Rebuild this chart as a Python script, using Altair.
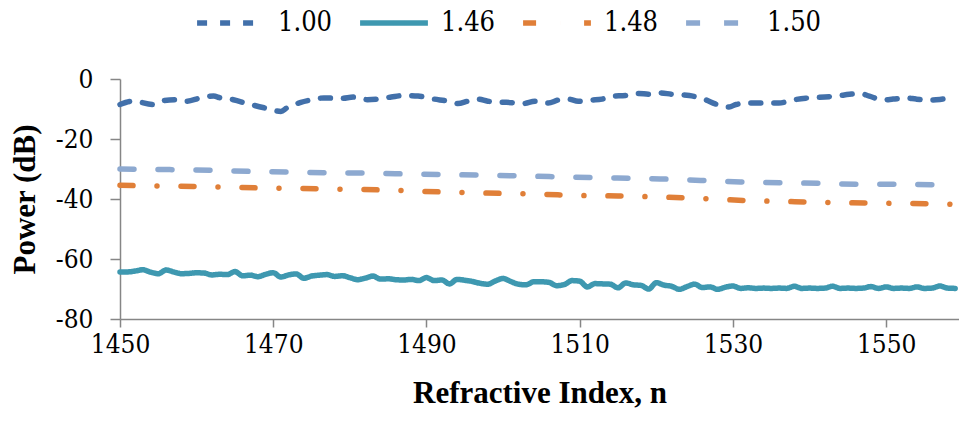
import altair as alt
import pandas as pd

series_names = ["1.00", "1.46", "1.48", "1.50"]
colors = ["#4270AA", "#3E98B0", "#E07F38", "#8DA9D0"]
dashes = [[10, 13], [1, 0], [13, 24, 0.01, 24], [14, 24]]

x_ticks = [1450, 1470, 1490, 1510, 1530, 1550]
y_ticks = [-80, -60, -40, -20, 0]

x_100 = [1450, 1451.7, 1454.4, 1455.7, 1457.4, 1458.7, 1460.5, 1462.2, 1463.1, 1464.8,
         1466.6, 1468.8, 1471.0, 1471.8, 1473.6, 1474.9, 1476.6, 1478.8, 1480.6, 1482.3,
         1483.6, 1485.4, 1487.1, 1488.9, 1491.0, 1492.8, 1494.1, 1495.4, 1496.7, 1498.0,
         1499.8, 1501.3, 1502.6, 1504.2, 1505.9, 1507.2, 1508.5, 1509.8, 1511.6, 1512.9,
         1514.2, 1516.0, 1517.7, 1519.0, 1520.3, 1522.1, 1524.3, 1526.4, 1527.7, 1529.5,
         1530.4, 1532.1, 1533.9, 1536.0, 1537.8, 1539.5, 1541.3, 1543.5, 1545.2, 1546.5,
         1547.8, 1549.6, 1550.9, 1552.6, 1553.9, 1555.7, 1557.0, 1559.0]
y_100 = [-8.5, -7.4, -8.5, -7.2, -6.9, -7.4, -6.3, -5.7, -6.3, -6.9,
         -8.2, -9.6, -10.8, -9.6, -7.8, -7.0, -6.3, -6.5, -6.0, -6.9,
         -6.7, -6.0, -5.5, -5.7, -6.7, -7.4, -8.2, -7.4, -6.7, -7.4,
         -7.7, -7.9, -8.2, -7.4, -8.0, -7.0, -6.7, -7.4, -7.0, -6.7,
         -5.7, -5.5, -4.8, -5.1, -4.6, -5.1, -5.5, -6.9, -8.3, -9.3,
         -8.5, -8.0, -8.0, -8.0, -7.0, -6.4, -6.1, -5.7, -5.1, -4.8,
         -5.7, -7.0, -6.7, -6.3, -6.7, -7.0, -6.8, -6.0]

x_146 = list(range(1450, 1560))
y_146 = [-64.3, -64.3, -64.0, -63.6, -64.4, -64.9, -63.7, -64.3, -64.9, -64.8,
         -64.6, -64.7, -65.3, -65.1, -65.2, -64.2, -65.6, -65.4, -65.9, -65.1,
         -64.6, -66.0, -65.3, -65.0, -66.4, -65.7, -65.4, -65.2, -65.8, -65.6,
         -66.2, -66.9, -66.4, -65.7, -66.7, -66.6, -66.9, -67.0, -66.8, -67.2,
         -66.2, -67.2, -67.0, -68.3, -66.8, -67.1, -67.5, -68.1, -68.4, -67.3,
         -66.5, -67.5, -68.4, -68.6, -67.6, -67.6, -67.8, -68.9, -68.5, -67.2,
         -67.4, -69.3, -68.2, -68.3, -68.4, -69.6, -68.0, -68.6, -68.8, -70.0,
         -67.9, -68.7, -69.1, -70.1, -69.2, -68.4, -69.5, -69.3, -70.1, -69.4,
         -69.0, -69.8, -69.6, -69.8, -69.7, -69.8, -69.7, -69.8, -69.1, -69.8,
         -69.7, -69.8, -69.7, -69.1, -69.8, -69.7, -69.8, -69.7, -69.2, -69.8,
         -69.3, -69.8, -69.7, -69.8, -69.3, -69.8, -69.7, -69.0, -69.7, -69.8]

x_148 = [1450, 1452.7, 1459.6, 1467.9, 1476.0, 1484.5, 1492.6, 1500.9, 1505.0, 1509.2,
         1515.0, 1523.6, 1531.7, 1540.0, 1548.3, 1556.6, 1559.0]
y_148 = [-35.4, -35.6, -35.8, -36.3, -36.6, -37.0, -37.7, -38.2, -38.4, -38.8,
         -39.0, -39.6, -40.5, -41.0, -41.4, -41.6, -41.9]

x_150 = [1450, 1456.5, 1461.8, 1467.0, 1472.3, 1477.5, 1482.7, 1488.0, 1493.2, 1498.5,
         1503.7, 1509.0, 1514.9, 1520.5, 1525.8, 1531.0, 1536.5, 1541.7, 1547.0, 1552.2,
         1557.4, 1559.0]
y_150 = [-30.0, -30.2, -30.4, -30.8, -31.0, -31.3, -31.4, -31.7, -31.9, -32.1,
         -32.4, -32.7, -33.0, -33.3, -33.8, -34.3, -34.6, -34.8, -35.1, -35.1,
         -35.3, -35.4]

rows = []
for name, xs, ys in [("1.00", x_100, y_100), ("1.46", x_146, y_146),
                     ("1.48", x_148, y_148), ("1.50", x_150, y_150)]:
    for i, (xv, yv) in enumerate(zip(xs, ys)):
        rows.append({"series": name, "x": xv, "y": yv, "i": i})
df = pd.DataFrame(rows)

FONT = "DejaVu Serif Condensed"
TFONT = "Liberation Serif"
GRAY = "#868686"

legend = alt.Legend(
    title=None, orient="none", legendX=74, legendY=-93, direction="horizontal",
    symbolType="stroke", symbolSize=4600, symbolStrokeWidth=5.5,
    labelFont=FONT, labelFontSize=27, labelColor="black",
    labelOffset=10, columnPadding=16, padding=0, values=series_names,
)

chart = alt.Chart(df).mark_line(
    strokeWidth=5.5, strokeCap="round", strokeJoin="round", interpolate="monotone"
).encode(
    x=alt.X("x:Q", scale=alt.Scale(domain=[1450, 1559.5], nice=False, zero=False),
            axis=alt.Axis(values=x_ticks, title="Refractive Index, n", grid=False,
                          labelExpr="'' + datum.value",
                          labelFont=FONT, labelFontSize=26, labelColor="black",
                          labelPadding=4, tickSize=8, tickColor=GRAY, tickWidth=1.5,
                          domainColor=GRAY, domainWidth=1.5, labelFlush=False,
                          titleFont=TFONT, titleFontSize=31, titleFontWeight="bold",
                          titleColor="black", titleBaseline="middle", titleY=74,
                          titleAnchor="middle")),
    y=alt.Y("y:Q", scale=alt.Scale(domain=[-80, 0], nice=False, zero=False),
            axis=alt.Axis(values=y_ticks, title="Power (dB)", grid=False,
                          labelExpr="'' + datum.value",
                          labelFont=FONT, labelFontSize=26, labelColor="black",
                          labelPadding=17, tickSize=10, tickColor=GRAY, tickWidth=1.5,
                          domainColor=GRAY, domainWidth=1.5,
                          titleFont=TFONT, titleFontSize=31, titleFontWeight="bold",
                          titleColor="black", titleAngle=-90, titleBaseline="middle",
                          titleAlign="center", titleX=-95, titleY=120)),
    color=alt.Color("series:N", scale=alt.Scale(domain=series_names, range=colors),
                    legend=legend),
    strokeDash=alt.StrokeDash("series:N", scale=alt.Scale(domain=series_names, range=dashes),
                              legend=legend),
    order="i:Q",
).properties(
    width=839, height=240,
    autosize=alt.AutoSizeParams(type="none"),
    padding={"left": 120, "top": 79, "right": 0, "bottom": 102},
    background="white",
).configure(
    font=FONT
).configure_legend(
    labelFont=FONT, labelFontSize=27, labelColor="black"
).configure_view(stroke=None)

chart.save("out.html", embed_options={"renderer": "svg", "actions": False})
